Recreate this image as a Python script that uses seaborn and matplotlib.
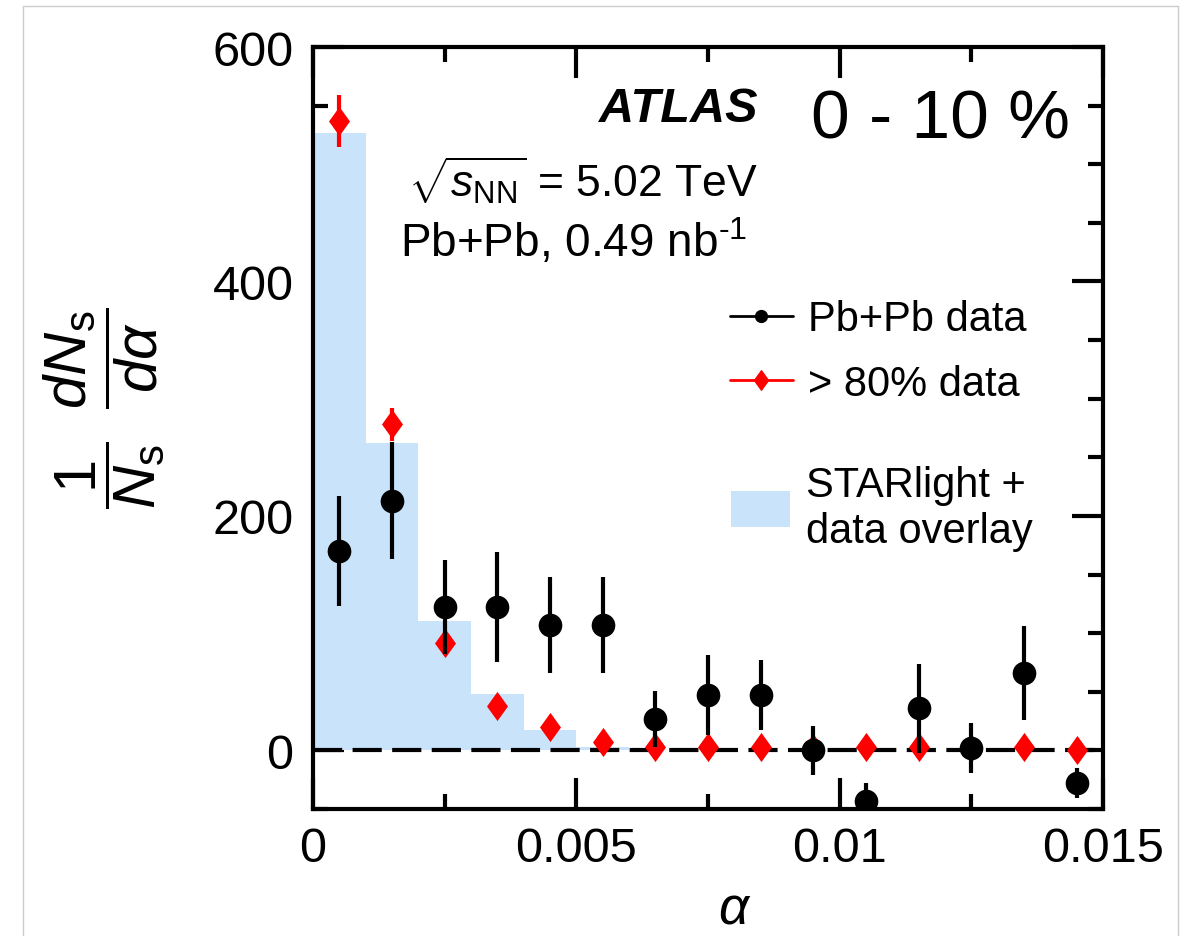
import numpy as np
import pandas as pd
import matplotlib
matplotlib.use("Agg")
import matplotlib.pyplot as plt
import seaborn as sns
from matplotlib.lines import Line2D
from matplotlib.patches import Patch
from matplotlib.path import Path
from matplotlib.ticker import MultipleLocator

# bins of alpha, width 0.001
alpha_centers = [0.0005, 0.0015, 0.0025, 0.0035, 0.0045, 0.0055, 0.0065, 0.0075,
                 0.0085, 0.0095, 0.0105, 0.0115, 0.0125, 0.0135, 0.0145]

# Pb+Pb data (0-10 %)
pbpb_y = [170, 213, 122, 122, 107, 107, 27, 47, 47, 0, -43, 36, 2, 66, -28]
pbpb_err = [47, 50, 40, 47, 41, 41, 24, 34, 30, 21, 15, 38, 21, 40, 13]

# > 80% data
periph_y = [537, 278, 92, 38, 20, 7, 3, 3, 3, 2, 3, 3, 2, 3, 0]
periph_err = [22, 14, 8, 4, 3, 2, 2, 2, 2, 2, 2, 2, 2, 2, 2]

# STARlight + data overlay histogram
starlight = [527, 262, 110, 48, 17, 3, 0.5, 0.5, 0.5, 0.5, 0.5, 0.5, 0.5, 0.5, 0.5]

sns.set_style("ticks")
plt.rcParams["font.family"] = ["Liberation Sans", "DejaVu Sans"]
plt.rcParams["mathtext.fontset"] = "custom"
plt.rcParams["mathtext.rm"] = "Liberation Sans"
plt.rcParams["mathtext.it"] = "Liberation Sans:italic"
plt.rcParams["mathtext.bf"] = "Liberation Sans:bold"
for key in ["text.color", "axes.labelcolor", "xtick.color", "ytick.color", "axes.edgecolor"]:
    plt.rcParams[key] = "black"

fill_col = "#c8e3fa"
# diamond a bit wider than matplotlib's thin diamond
diamond = Path([(0, 1), (0.72, 0), (0, -1), (-0.72, 0), (0, 1)],
               [Path.MOVETO, Path.LINETO, Path.LINETO, Path.LINETO, Path.CLOSEPOLY])

fig = plt.figure(figsize=(11.92, 9.37), dpi=100)
ax = fig.add_axes([313 / 1192, 1 - 810 / 937, (1103 - 313) / 1192, (810 - 48) / 937])

df_star = pd.DataFrame({"alpha": alpha_centers, "w": starlight})
sns.histplot(data=df_star, x="alpha", weights="w", binwidth=0.001, binrange=(0, 0.015),
             element="bars", fill=True, color=fill_col, alpha=1, linewidth=0,
             edgecolor="none", ax=ax, zorder=1)

ax.axhline(0, color="black", lw=3, dashes=(7, 2.5), zorder=2)

df_p = pd.DataFrame({"alpha": alpha_centers, "y": periph_y, "err": periph_err})
ax.errorbar(df_p["alpha"], df_p["y"], yerr=df_p["err"], fmt="none", ecolor="red",
            elinewidth=3, capsize=0, zorder=3)
sns.scatterplot(data=df_p, x="alpha", y="y", marker=diamond, s=440, color="red",
                linewidth=0, ax=ax, zorder=4)

df_b = pd.DataFrame({"alpha": alpha_centers, "y": pbpb_y, "err": pbpb_err})
ax.errorbar(df_b["alpha"], df_b["y"], yerr=df_b["err"], fmt="none", ecolor="black",
            elinewidth=3, capsize=0, zorder=5)
sns.scatterplot(data=df_b, x="alpha", y="y", marker="o", s=290, color="black",
                linewidth=0, ax=ax, zorder=6)

ax.set_xlim(0, 0.015)
ax.set_ylim(-50, 600)
ax.xaxis.set_major_locator(MultipleLocator(0.005))
ax.xaxis.set_minor_locator(MultipleLocator(0.0025))
ax.yaxis.set_major_locator(MultipleLocator(200))
ax.yaxis.set_minor_locator(MultipleLocator(50))
ax.set_xticks([0, 0.005, 0.01, 0.015])
ax.set_xticklabels(["0", "0.005", "0.01", "0.015"])
ax.tick_params(which="both", direction="in", top=True, right=True, width=3, labelsize=35)
ax.tick_params(which="major", length=22)
ax.tick_params(which="minor", length=11)
ax.tick_params(axis="y", pad=14)
ax.tick_params(axis="x", pad=12)
for sp in ax.spines.values():
    sp.set_linewidth(3)

ax.set_xlabel(r"$\alpha$", fontsize=38)
ax.xaxis.set_label_coords(0.534, -0.098)
ax.set_ylabel(r"$\dfrac{1}{N_{\rm s}}\;\;\dfrac{dN_{\rm s}}{d\alpha}$", fontsize=43)
ax.yaxis.set_label_coords(-0.185, 0.527)

ax.text(0.563, 0.919, "ATLAS", transform=ax.transAxes, ha="right", va="center",
        fontsize=35, fontweight="bold", fontstyle="italic")
ax.text(0.12, 0.825, r"$\sqrt{s_{\rm NN}}$ = 5.02 TeV", transform=ax.transAxes,
        ha="left", va="center", fontsize=32)
ax.text(0.11, 0.745, r"Pb+Pb, 0.49 nb$^{\text{-1}}$", transform=ax.transAxes,
        ha="left", va="center", fontsize=33)
ax.text(0.958, 0.905, "0 - 10 %", transform=ax.transAxes, ha="right", va="center",
        fontsize=50)

handles = [
    Line2D([], [], color="black", marker="o", ms=8.5, lw=2),
    Line2D([], [], color="red", marker=diamond, ms=14, lw=2),
]
leg1 = ax.legend(handles, ["Pb+Pb data", "> 80% data"], loc="upper left",
                 bbox_to_anchor=(0.501, 0.696), frameon=False, fontsize=30, borderpad=0,
                 handlelength=1.52, handletextpad=0.37, labelspacing=0.58)
ax.add_artist(leg1)
ax.legend([Patch(facecolor=fill_col, edgecolor="none")], ["STARlight +\ndata overlay"],
          loc="center left", bbox_to_anchor=(0.503, 0.395), frameon=False, fontsize=30,
          borderpad=0, handlelength=1.4, handleheight=0.95, handletextpad=0.4)

# thin grey frame of the screenshot
fig.add_artist(Line2D([23 / 1192, 23 / 1192], [0, 1 - 7 / 937], color="#cccccc", lw=1))
fig.add_artist(Line2D([1178 / 1192, 1178 / 1192], [0, 1 - 7 / 937], color="#cccccc", lw=1))
fig.add_artist(Line2D([23 / 1192, 1178 / 1192], [1 - 7 / 937, 1 - 7 / 937], color="#cccccc", lw=1))

fig.savefig("out.png", dpi=100)
